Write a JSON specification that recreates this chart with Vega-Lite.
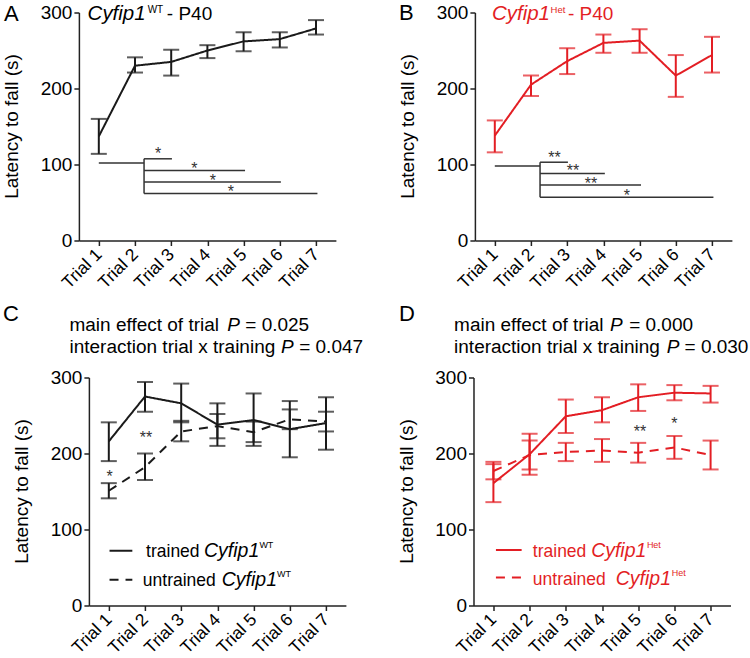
{
  "$schema": "https://vega.github.io/schema/vega-lite/v6.json",
  "padding": {"left": 1.9, "top": 1.5, "right": 0, "bottom": 0},
  "background": "white",
  "config": {
    "font": "Liberation Sans",
    "view": {"stroke": null},
    "axis": {
      "grid": false,
      "labelFont": "Liberation Sans",
      "labelFontSize": 19,
      "labelColor": "#000",
      "domainColor": "#222",
      "tickColor": "#222",
      "domainWidth": 1.5,
      "tickWidth": 1.5,
      "tickSize": 5,
      "labelPadding": 2
    },
    "axisX": {
      "labelFontSize": 17.5,
      "labelAngle": -45,
      "labelAlign": "right",
      "labelBaseline": "middle",
      "labelOverlap": false,
      "labelPadding": 6
    }
  },
  "datasets": {
    "main": [
      {"panel":"A","series":"trained","x":1,"y":137,"lo":114,"hi":160},
      {"panel":"A","series":"trained","x":2,"y":230,"lo":221,"hi":241},
      {"panel":"A","series":"trained","x":3,"y":235,"lo":217,"hi":251},
      {"panel":"A","series":"trained","x":4,"y":250,"lo":240,"hi":257},
      {"panel":"A","series":"trained","x":5,"y":262,"lo":249,"hi":274},
      {"panel":"A","series":"trained","x":6,"y":265,"lo":254,"hi":274},
      {"panel":"A","series":"trained","x":7,"y":279,"lo":271,"hi":290},
      {"panel":"B","series":"trained","x":1,"y":138,"lo":116,"hi":158},
      {"panel":"B","series":"trained","x":2,"y":205,"lo":190,"hi":217},
      {"panel":"B","series":"trained","x":3,"y":236,"lo":219,"hi":253},
      {"panel":"B","series":"trained","x":4,"y":260,"lo":247,"hi":271},
      {"panel":"B","series":"trained","x":5,"y":263,"lo":247,"hi":278},
      {"panel":"B","series":"trained","x":6,"y":217,"lo":189,"hi":244},
      {"panel":"B","series":"trained","x":7,"y":244,"lo":221,"hi":268},
      {"panel":"C","series":"trained","x":1,"y":216,"lo":190,"hi":241},
      {"panel":"C","series":"trained","x":2,"y":275,"lo":255,"hi":294},
      {"panel":"C","series":"trained","x":3,"y":266,"lo":241,"hi":292},
      {"panel":"C","series":"trained","x":4,"y":238,"lo":210,"hi":266},
      {"panel":"C","series":"trained","x":5,"y":244,"lo":210,"hi":279},
      {"panel":"C","series":"trained","x":6,"y":232,"lo":195,"hi":269},
      {"panel":"C","series":"trained","x":7,"y":240,"lo":205,"hi":274},
      {"panel":"C","series":"untrained","x":1,"y":151,"lo":141,"hi":161},
      {"panel":"C","series":"untrained","x":2,"y":182,"lo":165,"hi":200},
      {"panel":"C","series":"untrained","x":3,"y":229,"lo":216,"hi":243},
      {"panel":"C","series":"untrained","x":4,"y":236,"lo":220,"hi":252},
      {"panel":"C","series":"untrained","x":5,"y":228,"lo":215,"hi":242},
      {"panel":"C","series":"untrained","x":6,"y":245,"lo":232,"hi":258},
      {"panel":"C","series":"untrained","x":7,"y":242,"lo":229,"hi":255},
      {"panel":"D","series":"trained","x":1,"y":161,"lo":136,"hi":186},
      {"panel":"D","series":"trained","x":2,"y":199,"lo":172,"hi":226},
      {"panel":"D","series":"trained","x":3,"y":249,"lo":227,"hi":271},
      {"panel":"D","series":"trained","x":4,"y":257,"lo":241,"hi":274},
      {"panel":"D","series":"trained","x":5,"y":274,"lo":256,"hi":291},
      {"panel":"D","series":"trained","x":6,"y":280,"lo":270,"hi":290},
      {"panel":"D","series":"trained","x":7,"y":279,"lo":267,"hi":289},
      {"panel":"D","series":"untrained","x":1,"y":177,"lo":166,"hi":189},
      {"panel":"D","series":"untrained","x":2,"y":198,"lo":179,"hi":217},
      {"panel":"D","series":"untrained","x":3,"y":202,"lo":190,"hi":214},
      {"panel":"D","series":"untrained","x":4,"y":204,"lo":189,"hi":219},
      {"panel":"D","series":"untrained","x":5,"y":201,"lo":188,"hi":214},
      {"panel":"D","series":"untrained","x":6,"y":208,"lo":193,"hi":223},
      {"panel":"D","series":"untrained","x":7,"y":198,"lo":179,"hi":217}
    ],
    "sig": [
      {"panel":"A","x":1.0,"x2":2.25,"y":102,"y2":102},
      {"panel":"A","x":2.25,"x2":2.25,"y":107.5,"y2":62},
      {"panel":"A","x":2.25,"x2":3.02,"y":107.5,"y2":107.5},
      {"panel":"A","x":2.25,"x2":5.04,"y":92,"y2":92},
      {"panel":"A","x":2.25,"x2":6.03,"y":77,"y2":77},
      {"panel":"A","x":2.25,"x2":7.04,"y":62,"y2":62},
      {"panel":"B","x":1.0,"x2":2.25,"y":98,"y2":98},
      {"panel":"B","x":2.25,"x2":2.25,"y":103,"y2":57},
      {"panel":"B","x":2.25,"x2":3.02,"y":103,"y2":103},
      {"panel":"B","x":2.25,"x2":4.04,"y":88,"y2":88},
      {"panel":"B","x":2.25,"x2":5.04,"y":73,"y2":73},
      {"panel":"B","x":2.25,"x2":7.04,"y":57,"y2":57}
    ],
    "keys": [
      {"panel":"C","series":"trained","x":1.02,"x2":1.65,"y":72},
      {"panel":"C","series":"untrained","x":1.02,"x2":1.65,"y":34},
      {"panel":"D","series":"trained","x":1.07,"x2":1.78,"y":73},
      {"panel":"D","series":"untrained","x":1.07,"x2":1.78,"y":37}
    ],
    "labels": [
      {"panel":"A","role":"ytitle","text":"Latency to fall (s)","x":-1.23,"y":150},
      {"panel":"B","role":"ytitle","text":"Latency to fall (s)","x":-1.23,"y":150},
      {"panel":"C","role":"ytitle","text":"Latency to fall (s)","x":-1.23,"y":150},
      {"panel":"D","role":"ytitle","text":"Latency to fall (s)","x":-1.23,"y":150},
      {"panel":"A","role":"letter","text":"A","x":-1.62,"y":289},
      {"panel":"A","role":"italic","text":"Cyfip1","x":0.69,"y":290.4},
      {"panel":"A","role":"sup","text":"WT","x":2.35,"y":300},
      {"panel":"A","role":"plain","text":"- P40","x":2.88,"y":290.4},
      {"panel":"A","role":"star","text":"*","x":2.64,"y":119},
      {"panel":"A","role":"star","text":"*","x":3.64,"y":100},
      {"panel":"A","role":"star","text":"*","x":4.15,"y":84},
      {"panel":"A","role":"star","text":"*","x":4.65,"y":69},
      {"panel":"B","role":"letter","text":"B","x":-1.65,"y":289.5},
      {"panel":"B","role":"italic","text":"Cyfip1","x":0.92,"y":290.4},
      {"panel":"B","role":"sup","text":"Het","x":2.54,"y":300},
      {"panel":"B","role":"plain","text":"- P40","x":3.02,"y":290.4},
      {"panel":"B","role":"star","text":"**","x":2.65,"y":114},
      {"panel":"B","role":"star","text":"**","x":3.16,"y":96.5},
      {"panel":"B","role":"star","text":"**","x":3.66,"y":79},
      {"panel":"B","role":"star","text":"*","x":4.65,"y":64},
      {"panel":"C","role":"letter","text":"C","x":-1.926,"y":374.3},
      {"panel":"C","role":"plain","text":"main effect of trial","x":-0.086,"y":361.2},
      {"panel":"C","role":"italic","text":"P","x":4.27,"y":361.2},
      {"panel":"C","role":"plain","text":"= 0.025","x":4.77,"y":361.2},
      {"panel":"C","role":"plain","text":"interaction trial x training","x":-0.086,"y":332.8},
      {"panel":"C","role":"italic","text":"P","x":5.76,"y":332.8},
      {"panel":"C","role":"plain","text":"= 0.047","x":6.26,"y":332.8},
      {"panel":"C","role":"lplain","text":"trained","x":2.03,"y":64.2},
      {"panel":"C","role":"litalic","text":"Cyfip1","x":3.63,"y":64.2},
      {"panel":"C","role":"sup","text":"WT","x":5.16,"y":75},
      {"panel":"C","role":"lplain","text":"untrained","x":1.94,"y":25.8},
      {"panel":"C","role":"litalic","text":"Cyfip1","x":4.12,"y":25.8},
      {"panel":"C","role":"sup","text":"WT","x":5.65,"y":37.6},
      {"panel":"C","role":"star","text":"*","x":1.02,"y":174},
      {"panel":"C","role":"star","text":"**","x":2.03,"y":226},
      {"panel":"D","role":"letter","text":"D","x":-1.61,"y":374.3},
      {"panel":"D","role":"plain","text":"main effect of trial","x":-0.086,"y":361.2},
      {"panel":"D","role":"italic","text":"P","x":4.22,"y":361.2},
      {"panel":"D","role":"plain","text":"= 0.000","x":4.75,"y":361.2},
      {"panel":"D","role":"plain","text":"interaction trial x training","x":-0.086,"y":332.8},
      {"panel":"D","role":"italic","text":"P","x":5.79,"y":332.8},
      {"panel":"D","role":"plain","text":"= 0.030","x":6.28,"y":332.8},
      {"panel":"D","role":"lplain","text":"trained","x":2.09,"y":64},
      {"panel":"D","role":"litalic","text":"Cyfip1","x":3.7,"y":64},
      {"panel":"D","role":"sup","text":"Het","x":5.24,"y":75},
      {"panel":"D","role":"lplain","text":"untrained","x":2.09,"y":27},
      {"panel":"D","role":"litalic","text":"Cyfip1","x":4.38,"y":27},
      {"panel":"D","role":"sup","text":"Het","x":5.93,"y":38.5},
      {"panel":"D","role":"star","text":"**","x":5.05,"y":234},
      {"panel":"D","role":"star","text":"*","x":6.0,"y":244}
    ]
  },
  "columns": 1,
  "align": "none",
  "spacing": 11,
  "concat": [
    {
      "spacing": 52,
      "hconcat": [
        {
          "width": 247, "height": 228,
          "encoding": {
            "x": {"field":"x","type":"quantitative","title":null,"scale":{"domain":[0.45,7.55],"range":[-10,247],"nice":false,"zero":false},"axis":{"values":[1,2,3,4,5,6,7],"labelExpr":"'Trial ' + datum.value"}},
            "y": {"field":"y","type":"quantitative","title":null,"scale":{"domain":[0,300],"nice":false},"axis":{"values":[0,100,200,300],"offset":10}}
          },
          "layer": [
            {"data":{"name":"main"},"transform":[{"filter":"datum.panel==='A'"}],
             "mark":{"type":"errorbar","orient":"vertical","color":"#1a1a1a","thickness":2,"ticks":{"size":16,"thickness":2,"color":"#1a1a1a"}},
             "encoding":{"y":{"field":"lo","type":"quantitative","title":null,"scale":{"domain":[0,300],"nice":false},"axis":{"values":[0,100,200,300],"offset":10}},"y2":{"field":"hi"}}},
            {"data":{"name":"main"},"transform":[{"filter":"datum.panel==='A'"}],
             "mark":{"type":"line","color":"#1a1a1a","strokeWidth":2},
             "encoding":{"strokeDash":{"field":"series","type":"nominal","scale":{"domain":["trained","untrained"],"range":[[1,0],[9,7]]},"legend":null}}},
            {"data":{"name":"sig"},"transform":[{"filter":"datum.panel==='A'"}],
             "mark":{"type":"rule","color":"#333","strokeWidth":1.5},
             "encoding":{"x2":{"field":"x2"},"y2":{"field":"y2"}}},
            {"data":{"name":"labels"},"transform":[{"filter":"datum.panel==='A' && datum.role==='ytitle'"}],
             "mark":{"type":"text","fontSize":19,"angle":270,"align":"center","baseline":"alphabetic","color":"#000"},
             "encoding":{"text":{"field":"text"}}},
            {"data":{"name":"labels"},"transform":[{"filter":"datum.panel==='A' && datum.role==='star'"}],
             "mark":{"type":"text","fontSize":16,"align":"center","baseline":"alphabetic","dy":9,"color":"#333"},
             "encoding":{"text":{"field":"text"}}},
            {"data":{"name":"labels"},"transform":[{"filter":"datum.panel==='A' && datum.role==='letter'"}],
             "mark":{"type":"text","fontSize":22,"align":"left","baseline":"alphabetic","color":"#000"},
             "encoding":{"text":{"field":"text"}}},
            {"data":{"name":"labels"},"transform":[{"filter":"datum.panel==='A' && datum.role==='plain'"}],
             "mark":{"type":"text","fontSize":19,"align":"left","baseline":"alphabetic","color":"#000"},
             "encoding":{"text":{"field":"text"}}},
            {"data":{"name":"labels"},"transform":[{"filter":"datum.panel==='A' && datum.role==='italic'"}],
             "mark":{"type":"text","fontSize":20.5,"fontStyle":"italic","align":"left","baseline":"alphabetic","color":"#000"},
             "encoding":{"text":{"field":"text"}}},
            {"data":{"name":"labels"},"transform":[{"filter":"datum.panel==='A' && datum.role==='sup'"}],
             "mark":{"type":"text","fontSize":10,"align":"left","baseline":"alphabetic","color":"#000"},
             "encoding":{"text":{"field":"text"}}}
          ]
        },
        {
          "width": 257, "height": 228,
          "encoding": {
            "x": {"field":"x","type":"quantitative","title":null,"scale":{"domain":[0.45,7.55],"nice":false,"zero":false},"axis":{"values":[1,2,3,4,5,6,7],"labelExpr":"'Trial ' + datum.value"}},
            "y": {"field":"y","type":"quantitative","title":null,"scale":{"domain":[0,300],"nice":false},"axis":{"values":[0,100,200,300]}}
          },
          "layer": [
            {"data":{"name":"main"},"transform":[{"filter":"datum.panel==='B'"}],
             "mark":{"type":"errorbar","orient":"vertical","color":"#e31e24","thickness":2,"ticks":{"size":16,"thickness":2,"color":"#e31e24"}},
             "encoding":{"y":{"field":"lo","type":"quantitative","title":null,"scale":{"domain":[0,300],"nice":false},"axis":{"values":[0,100,200,300]}},"y2":{"field":"hi"}}},
            {"data":{"name":"main"},"transform":[{"filter":"datum.panel==='B'"}],
             "mark":{"type":"line","color":"#e31e24","strokeWidth":2},
             "encoding":{"strokeDash":{"field":"series","type":"nominal","scale":{"domain":["trained","untrained"],"range":[[1,0],[9,7]]},"legend":null}}},
            {"data":{"name":"sig"},"transform":[{"filter":"datum.panel==='B'"}],
             "mark":{"type":"rule","color":"#333","strokeWidth":1.5},
             "encoding":{"x2":{"field":"x2"},"y2":{"field":"y2"}}},
            {"data":{"name":"labels"},"transform":[{"filter":"datum.panel==='B' && datum.role==='ytitle'"}],
             "mark":{"type":"text","fontSize":19,"angle":270,"align":"center","baseline":"alphabetic","color":"#000"},
             "encoding":{"text":{"field":"text"}}},
            {"data":{"name":"labels"},"transform":[{"filter":"datum.panel==='B' && datum.role==='star'"}],
             "mark":{"type":"text","fontSize":16,"align":"center","baseline":"alphabetic","dy":9,"color":"#333"},
             "encoding":{"text":{"field":"text"}}},
            {"data":{"name":"labels"},"transform":[{"filter":"datum.panel==='B' && datum.role==='letter'"}],
             "mark":{"type":"text","fontSize":22,"align":"left","baseline":"alphabetic","color":"#000"},
             "encoding":{"text":{"field":"text"}}},
            {"data":{"name":"labels"},"transform":[{"filter":"datum.panel==='B' && datum.role==='plain'"}],
             "mark":{"type":"text","fontSize":19,"align":"left","baseline":"alphabetic","color":"#e31e24"},
             "encoding":{"text":{"field":"text"}}},
            {"data":{"name":"labels"},"transform":[{"filter":"datum.panel==='B' && datum.role==='italic'"}],
             "mark":{"type":"text","fontSize":20.5,"fontStyle":"italic","align":"left","baseline":"alphabetic","color":"#e31e24"},
             "encoding":{"text":{"field":"text"}}},
            {"data":{"name":"labels"},"transform":[{"filter":"datum.panel==='B' && datum.role==='sup'"}],
             "mark":{"type":"text","fontSize":9.5,"align":"left","baseline":"alphabetic","color":"#e31e24"},
             "encoding":{"text":{"field":"text"}}}
          ]
        }
      ]
    },
    {
      "spacing": 33.6,
      "hconcat": [
        {
          "width": 257, "height": 228,
          "encoding": {
            "x": {"field":"x","type":"quantitative","title":null,"scale":{"domain":[0.45,7.55],"nice":false,"zero":false},"axis":{"values":[1,2,3,4,5,6,7],"labelExpr":"'Trial ' + datum.value"}},
            "y": {"field":"y","type":"quantitative","title":null,"scale":{"domain":[0,300],"nice":false},"axis":{"values":[0,100,200,300]}}
          },
          "layer": [
            {"data":{"name":"main"},"transform":[{"filter":"datum.panel==='C'"}],
             "mark":{"type":"errorbar","orient":"vertical","color":"#1a1a1a","thickness":2,"ticks":{"size":16,"thickness":2,"color":"#1a1a1a"}},
             "encoding":{"y":{"field":"lo","type":"quantitative","title":null,"scale":{"domain":[0,300],"nice":false},"axis":{"values":[0,100,200,300]}},"y2":{"field":"hi"}}},
            {"data":{"name":"main"},"transform":[{"filter":"datum.panel==='C'"}],
             "mark":{"type":"line","color":"#1a1a1a","strokeWidth":2},
             "encoding":{"strokeDash":{"field":"series","type":"nominal","scale":{"domain":["trained","untrained"],"range":[[1,0],[9,7]]},"legend":null}}},
            {"data":{"name":"keys"},"transform":[{"filter":"datum.panel==='C'"}],
             "mark":{"type":"rule","color":"#1a1a1a","strokeWidth":2},
             "encoding":{"x2":{"field":"x2"},"strokeDash":{"field":"series","type":"nominal","scale":{"domain":["trained","untrained"],"range":[[1,0],[8,6]]},"legend":null}}},
            {"data":{"name":"labels"},"transform":[{"filter":"datum.panel==='C' && datum.role==='ytitle'"}],
             "mark":{"type":"text","fontSize":19,"angle":270,"align":"center","baseline":"alphabetic","color":"#000"},
             "encoding":{"text":{"field":"text"}}},
            {"data":{"name":"labels"},"transform":[{"filter":"datum.panel==='C' && datum.role==='star'"}],
             "mark":{"type":"text","fontSize":16,"align":"center","baseline":"alphabetic","dy":9,"color":"#333"},
             "encoding":{"text":{"field":"text"}}},
            {"data":{"name":"labels"},"transform":[{"filter":"datum.panel==='C' && datum.role==='letter'"}],
             "mark":{"type":"text","fontSize":22,"align":"left","baseline":"alphabetic","color":"#000"},
             "encoding":{"text":{"field":"text"}}},
            {"data":{"name":"labels"},"transform":[{"filter":"datum.panel==='C' && datum.role==='plain'"}],
             "mark":{"type":"text","fontSize":19,"align":"left","baseline":"alphabetic","color":"#000"},
             "encoding":{"text":{"field":"text"}}},
            {"data":{"name":"labels"},"transform":[{"filter":"datum.panel==='C' && datum.role==='italic'"}],
             "mark":{"type":"text","fontSize":19,"fontStyle":"italic","align":"left","baseline":"alphabetic","color":"#000"},
             "encoding":{"text":{"field":"text"}}},
            {"data":{"name":"labels"},"transform":[{"filter":"datum.panel==='C' && datum.role==='lplain'"}],
             "mark":{"type":"text","fontSize":17.5,"align":"left","baseline":"alphabetic","color":"#000"},
             "encoding":{"text":{"field":"text"}}},
            {"data":{"name":"labels"},"transform":[{"filter":"datum.panel==='C' && datum.role==='litalic'"}],
             "mark":{"type":"text","fontSize":19.5,"fontStyle":"italic","align":"left","baseline":"alphabetic","color":"#000"},
             "encoding":{"text":{"field":"text"}}},
            {"data":{"name":"labels"},"transform":[{"filter":"datum.panel==='C' && datum.role==='sup'"}],
             "mark":{"type":"text","fontSize":9,"align":"left","baseline":"alphabetic","color":"#000"},
             "encoding":{"text":{"field":"text"}}}
          ]
        },
        {
          "width": 257, "height": 228,
          "encoding": {
            "x": {"field":"x","type":"quantitative","title":null,"scale":{"domain":[0.45,7.55],"nice":false,"zero":false},"axis":{"values":[1,2,3,4,5,6,7],"labelExpr":"'Trial ' + datum.value"}},
            "y": {"field":"y","type":"quantitative","title":null,"scale":{"domain":[0,300],"nice":false},"axis":{"values":[0,100,200,300]}}
          },
          "layer": [
            {"data":{"name":"main"},"transform":[{"filter":"datum.panel==='D'"}],
             "mark":{"type":"errorbar","orient":"vertical","color":"#e31e24","thickness":2,"ticks":{"size":16,"thickness":2,"color":"#e31e24"}},
             "encoding":{"y":{"field":"lo","type":"quantitative","title":null,"scale":{"domain":[0,300],"nice":false},"axis":{"values":[0,100,200,300]}},"y2":{"field":"hi"}}},
            {"data":{"name":"main"},"transform":[{"filter":"datum.panel==='D'"}],
             "mark":{"type":"line","color":"#e31e24","strokeWidth":2},
             "encoding":{"strokeDash":{"field":"series","type":"nominal","scale":{"domain":["trained","untrained"],"range":[[1,0],[9,7]]},"legend":null}}},
            {"data":{"name":"keys"},"transform":[{"filter":"datum.panel==='D'"}],
             "mark":{"type":"rule","color":"#e31e24","strokeWidth":2},
             "encoding":{"x2":{"field":"x2"},"strokeDash":{"field":"series","type":"nominal","scale":{"domain":["trained","untrained"],"range":[[1,0],[8,6]]},"legend":null}}},
            {"data":{"name":"labels"},"transform":[{"filter":"datum.panel==='D' && datum.role==='ytitle'"}],
             "mark":{"type":"text","fontSize":19,"angle":270,"align":"center","baseline":"alphabetic","color":"#000"},
             "encoding":{"text":{"field":"text"}}},
            {"data":{"name":"labels"},"transform":[{"filter":"datum.panel==='D' && datum.role==='star'"}],
             "mark":{"type":"text","fontSize":16,"align":"center","baseline":"alphabetic","dy":9,"color":"#333"},
             "encoding":{"text":{"field":"text"}}},
            {"data":{"name":"labels"},"transform":[{"filter":"datum.panel==='D' && datum.role==='letter'"}],
             "mark":{"type":"text","fontSize":22,"align":"left","baseline":"alphabetic","color":"#000"},
             "encoding":{"text":{"field":"text"}}},
            {"data":{"name":"labels"},"transform":[{"filter":"datum.panel==='D' && datum.role==='plain'"}],
             "mark":{"type":"text","fontSize":19,"align":"left","baseline":"alphabetic","color":"#000"},
             "encoding":{"text":{"field":"text"}}},
            {"data":{"name":"labels"},"transform":[{"filter":"datum.panel==='D' && datum.role==='italic'"}],
             "mark":{"type":"text","fontSize":19,"fontStyle":"italic","align":"left","baseline":"alphabetic","color":"#000"},
             "encoding":{"text":{"field":"text"}}},
            {"data":{"name":"labels"},"transform":[{"filter":"datum.panel==='D' && datum.role==='lplain'"}],
             "mark":{"type":"text","fontSize":17.5,"align":"left","baseline":"alphabetic","color":"#e31e24"},
             "encoding":{"text":{"field":"text"}}},
            {"data":{"name":"labels"},"transform":[{"filter":"datum.panel==='D' && datum.role==='litalic'"}],
             "mark":{"type":"text","fontSize":19.5,"fontStyle":"italic","align":"left","baseline":"alphabetic","color":"#e31e24"},
             "encoding":{"text":{"field":"text"}}},
            {"data":{"name":"labels"},"transform":[{"filter":"datum.panel==='D' && datum.role==='sup'"}],
             "mark":{"type":"text","fontSize":9,"align":"left","baseline":"alphabetic","color":"#e31e24"},
             "encoding":{"text":{"field":"text"}}}
          ]
        }
      ]
    }
  ]
}
